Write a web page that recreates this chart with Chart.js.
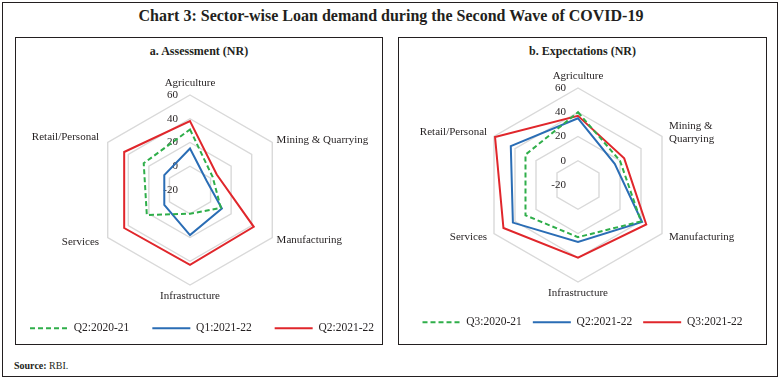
<!DOCTYPE html>
<html>
<head>
<meta charset="utf-8">
<script src="https://cdn.jsdelivr.net/npm/chart.js@4.4.1/dist/chart.umd.min.js"></script>
<style>
  body { margin: 0; background: #fff; font-family: "Liberation Serif", serif; color: #231f20; }
  #page { position: relative; width: 782px; height: 380px; }
  .frame { position: absolute; border: 1.3px solid #231f20; box-sizing: border-box; }
  .title { position: absolute; left: 0; width: 782px; top: 7px; text-align: center; font-size: 16px; font-weight: bold; }
  .sub { position: absolute; text-align: center; font-size: 12px; font-weight: bold; }
  canvas { position: absolute; }
  .source { position: absolute; left: 14px; top: 360px; font-size: 10px; }
</style>
</head>
<body>
<div id="page">
  <div class="frame" style="left:2px;top:2px;width:776px;height:375px;"></div>
  <div class="title">Chart 3: Sector-wise Loan demand during the Second Wave of COVID-19</div>

  <div class="frame" style="left:15px;top:37px;width:368px;height:308px;"></div>
  <div class="sub" style="left:15px;width:368px;top:44px;">a. Assessment (NR)</div>

  <div class="frame" style="left:398px;top:37px;width:369px;height:308px;"></div>
  <div class="sub" style="left:398px;width:369px;top:44px;">b. Expectations (NR)</div>

  <div style="position:absolute;left:0px;top:40px;width:410px;height:304px;"><canvas id="chartA"></canvas></div>
  <div style="position:absolute;left:399px;top:40px;width:367px;height:298px;"><canvas id="chartB"></canvas></div>

  <div class="source"><b>Source:</b> RBI.</div>
</div>
<script>
// sectors (axes of the radar)
const sectorsA = ['Agriculture', 'Mining & Quarrying', 'Manufacturing', 'Infrastructure', 'Services', 'Retail/Personal'];
const sectorsB = ['Agriculture', ['Mining &', 'Quarrying'], 'Manufacturing', 'Infrastructure', 'Services', 'Retail/Personal'];

// radial scale ticks
const scaleMin = -20;
const scaleMax = 60;
const scaleStep = 20;

// a. Assessment (net response)
const assessNames = ['Q2:2020-21', 'Q1:2021-22', 'Q2:2021-22'];
const assessQ2_2021 = [31, 2, 10, 0, 22, 25];
const assessQ1_2122 = [15, -4, 11, 18, 5, 5];
const assessQ2_2122 = [38, 6, 42, 43, 44, 44];

// b. Expectations (net response)
const expectNames = ['Q3:2020-21', 'Q2:2021-22', 'Q3:2021-22'];
const expectQ3_2021 = [40, 20, 40, 23, 30, 30];
const expectQ2_2122 = [35, 15, 41, 27, 42, 44];
const expectQ3_2122 = [37, 24, 45, 40, 51, 59];

const GREEN = '#2fae4a';
const BLUE = '#2a6db5';
const RED = '#e0262b';
const TEXT = '#231f20';

Chart.defaults.font.family = '"Liberation Serif", serif';
Chart.defaults.color = TEXT;

// fixes the radar centre/radius and writes the axis + tick labels the way Excel does
const radarText = {
  id: 'radarText',
  afterLayout(chart, args, opts) {
    const r = chart.scales.r;
    r.xCenter = opts.cx;
    r.yCenter = opts.cy;
    r.drawingArea = opts.radius;
  },
  beforeDatasetsDraw(chart, args, opts) {
    const r = chart.scales.r;
    const ctx = chart.ctx;
    ctx.save();
    ctx.font = '11px "Liberation Serif", serif';
    ctx.fillStyle = TEXT;

    // tick labels, just left of the vertical axis
    ctx.textAlign = 'right';
    ctx.textBaseline = 'middle';
    r.ticks.forEach(t => {
      const d = r.getDistanceFromCenterForValue(t.value);
      ctx.fillText(t.label, r.xCenter - 12, r.yCenter - d);
    });

    // category labels
    const labels = chart.data.labels;
    const n = labels.length;
    const lh = 13;
    labels.forEach((lab, i) => {
      const deg = i * 360 / n;
      const side = deg !== 0 && deg !== 180;
      let gap = opts.gap;
      if (side) gap = deg < 180 ? opts.rightGap : opts.leftGap;
      const p = r.getPointPosition(i, r.drawingArea + gap);
      const lines = [].concat(lab);
      let top;
      if (deg === 0) top = p.y - lines.length * lh;
      else if (deg === 180) top = p.y;
      else top = p.y - lines.length * lh / 2;
      ctx.textAlign = !side ? 'center' : (deg < 180 ? 'left' : 'right');
      lines.forEach((l, k) => ctx.fillText(l, p.x, top + lh * (k + 0.5)));
    });
    ctx.restore();
  }
};

function makeDatasets(names, g, b, r) {
  const base = { borderWidth: 2, pointRadius: 0, pointHoverRadius: 0, fill: false, clip: false };
  return [
    Object.assign({ label: names[0], data: g, borderColor: GREEN, backgroundColor: GREEN, borderDash: [5, 3] }, base),
    Object.assign({ label: names[1], data: b, borderColor: BLUE, backgroundColor: BLUE }, base),
    Object.assign({ label: names[2], data: r, borderColor: RED, backgroundColor: RED }, base)
  ];
}

// legend lines take dash/width from the dataset line, not from the (hidden) points
function legendLines(chart) {
  const items = Chart.defaults.plugins.legend.labels.generateLabels(chart);
  items.forEach(it => {
    const ds = chart.data.datasets[it.datasetIndex];
    it.lineDash = ds.borderDash || [];
    it.lineWidth = ds.borderWidth;
    it.strokeStyle = ds.borderColor;
    it.fillStyle = ds.borderColor;
  });
  return items;
}

function makeRadar(id, labels, datasets, geom, pad, legendGap) {
  new Chart(document.getElementById(id), {
    type: 'radar',
    data: { labels: labels, datasets: datasets },
    options: {
      responsive: true,
      maintainAspectRatio: false,
      animation: false,
      layout: { padding: pad },
      scales: {
        r: {
          min: scaleMin,
          max: scaleMax,
          ticks: { stepSize: scaleStep, display: false },
          grid: { color: '#d9d9d9', lineWidth: 1.4 },
          angleLines: { display: false },
          pointLabels: { display: false }
        }
      },
      plugins: {
        radarText: geom,
        tooltip: { enabled: false },
        legend: {
          position: 'bottom',
          labels: {
            usePointStyle: true,
            pointStyle: 'line',
            pointStyleWidth: 38,
            padding: legendGap,
            color: TEXT,
            font: { size: 11.5 },
            generateLabels: legendLines
          }
        }
      }
    },
    plugins: [radarText]
  });
}

makeRadar('chartA', sectorsA,
  makeDatasets(assessNames, assessQ2_2021, assessQ1_2122, assessQ2_2122),
  { cx: 190, cy: 150, radius: 95, gap: 5, leftGap: 10, rightGap: 5 },
  { left: 0, right: 6, top: 0, bottom: 0 }, 23);

makeRadar('chartB', sectorsB,
  makeDatasets(expectNames, expectQ3_2021, expectQ2_2122, expectQ3_2122),
  { cx: 179, cy: 145, radius: 97, gap: 5, leftGap: 8, rightGap: 8 },
  { left: 0, right: 0, top: 0, bottom: 0 }, 11);
</script>
</body>
</html>
